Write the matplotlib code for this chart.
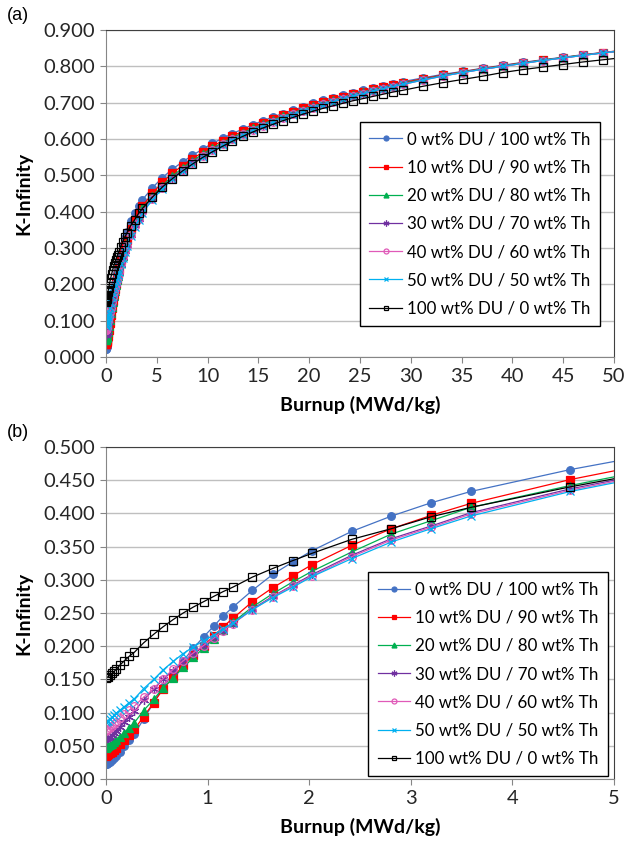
import numpy as np
import matplotlib
matplotlib.use("Agg")
import matplotlib.pyplot as plt
from matplotlib.ticker import FormatStrFormatter, MultipleLocator

plt.rcParams['font.family'] = ['Lato', 'DejaVu Sans']

# burnup grid (MWd/kg)
burnup = [0, 0.01, 0.02, 0.04, 0.06, 0.08, 0.1, 0.14, 0.18, 0.23, 0.28, 0.37, 0.47, 0.56,
          0.66, 0.76, 0.86, 0.96, 1.06, 1.15, 1.25, 1.44, 1.64, 1.84, 2.03,
          2.42, 2.81, 3.2, 3.59,
          4.57, 5.56, 6.54, 7.53, 8.51, 9.5, 10.48, 11.47, 12.45, 13.44, 14.42, 15.41, 16.39,
          17.38, 18.36, 19.35, 20.33, 21.32, 22.3, 23.29, 24.27, 25.26, 26.24, 27.23, 28.21, 29.2,
          31.17, 33.14, 35.11, 37.08, 39.05, 41.02, 42.99, 44.96, 46.93, 48.9, 50.87]

k_du0 = [0.022, 0.023, 0.024, 0.026, 0.028, 0.031, 0.034, 0.041, 0.049, 0.058, 0.068, 0.090, 0.115, 0.138,
         0.159, 0.178, 0.197, 0.214, 0.230, 0.245, 0.259, 0.284, 0.308, 0.327, 0.344,
         0.373, 0.396, 0.416, 0.433,
         0.466, 0.494, 0.517, 0.537, 0.555, 0.572, 0.588, 0.602, 0.615, 0.627, 0.639, 0.650, 0.660,
         0.670, 0.679, 0.688, 0.698, 0.706, 0.713, 0.720, 0.727, 0.734, 0.740, 0.746, 0.752, 0.758,
         0.768, 0.778, 0.786, 0.795, 0.803, 0.811, 0.818, 0.825, 0.832, 0.838, 0.844]

k_du10 = [0.035, 0.036, 0.037, 0.039, 0.041, 0.043, 0.046, 0.052, 0.058, 0.066, 0.075, 0.094, 0.115, 0.135,
          0.153, 0.171, 0.187, 0.201, 0.215, 0.229, 0.242, 0.267, 0.288, 0.306, 0.323,
          0.352, 0.377, 0.397, 0.415,
          0.451, 0.481, 0.506, 0.527, 0.546, 0.563, 0.580, 0.595, 0.608, 0.621, 0.633, 0.645, 0.655,
          0.665, 0.675, 0.684, 0.693, 0.701, 0.709, 0.716, 0.723, 0.730, 0.737, 0.743, 0.749, 0.755,
          0.766, 0.776, 0.785, 0.794, 0.802, 0.810, 0.817, 0.824, 0.831, 0.838, 0.844]

k_du20 = [0.047, 0.048, 0.049, 0.051, 0.053, 0.055, 0.058, 0.064, 0.070, 0.077, 0.085, 0.103, 0.120, 0.137,
          0.152, 0.168, 0.183, 0.197, 0.211, 0.224, 0.236, 0.259, 0.279, 0.297, 0.313,
          0.342, 0.369, 0.389, 0.409,
          0.442, 0.472, 0.498, 0.520, 0.540, 0.558, 0.575, 0.590, 0.604, 0.617, 0.629, 0.641, 0.652,
          0.662, 0.672, 0.681, 0.690, 0.698, 0.706, 0.714, 0.721, 0.728, 0.735, 0.741, 0.747, 0.753,
          0.764, 0.775, 0.784, 0.793, 0.801, 0.809, 0.817, 0.824, 0.831, 0.837, 0.843]

k_du30 = [0.060, 0.061, 0.062, 0.064, 0.066, 0.069, 0.072, 0.079, 0.086, 0.094, 0.102, 0.119, 0.135, 0.150,
          0.163, 0.176, 0.188, 0.200, 0.212, 0.223, 0.234, 0.256, 0.275, 0.292, 0.308,
          0.337, 0.362, 0.381, 0.401,
          0.437, 0.467, 0.493, 0.516, 0.536, 0.554, 0.571, 0.587, 0.601, 0.614, 0.626, 0.638, 0.649,
          0.659, 0.669, 0.678, 0.687, 0.696, 0.704, 0.712, 0.719, 0.726, 0.733, 0.739, 0.745, 0.751,
          0.763, 0.774, 0.783, 0.792, 0.800, 0.808, 0.816, 0.823, 0.830, 0.837, 0.843]

k_du40 = [0.073, 0.074, 0.075, 0.077, 0.080, 0.083, 0.086, 0.092, 0.098, 0.104, 0.110, 0.123, 0.136, 0.151,
          0.165, 0.178, 0.190, 0.201, 0.212, 0.223, 0.234, 0.255, 0.274, 0.291, 0.306,
          0.335, 0.360, 0.379, 0.399,
          0.435, 0.465, 0.491, 0.514, 0.534, 0.552, 0.569, 0.585, 0.600, 0.613, 0.625, 0.637, 0.648,
          0.658, 0.668, 0.677, 0.686, 0.695, 0.703, 0.711, 0.718, 0.725, 0.732, 0.738, 0.744, 0.750,
          0.762, 0.773, 0.783, 0.792, 0.800, 0.808, 0.816, 0.823, 0.830, 0.837, 0.843]

k_du50 = [0.086, 0.087, 0.088, 0.090, 0.093, 0.096, 0.099, 0.104, 0.109, 0.115, 0.121, 0.136, 0.150, 0.164,
          0.177, 0.189, 0.199, 0.208, 0.217, 0.226, 0.235, 0.255, 0.273, 0.289, 0.305,
          0.332, 0.357, 0.377, 0.396,
          0.433, 0.463, 0.489, 0.512, 0.532, 0.550, 0.567, 0.583, 0.598, 0.611, 0.624, 0.636, 0.647,
          0.657, 0.667, 0.676, 0.685, 0.694, 0.702, 0.710, 0.717, 0.724, 0.731, 0.738, 0.744, 0.750,
          0.762, 0.773, 0.783, 0.792, 0.800, 0.808, 0.816, 0.823, 0.830, 0.837, 0.843]

k_du100 = [0.152, 0.153, 0.154, 0.156, 0.159, 0.162, 0.165, 0.172, 0.178, 0.185, 0.191, 0.205, 0.218, 0.229,
           0.240, 0.250, 0.259, 0.267, 0.275, 0.282, 0.289, 0.304, 0.317, 0.329, 0.340,
           0.361, 0.377, 0.395, 0.409,
           0.440, 0.468, 0.491, 0.512, 0.531, 0.549, 0.565, 0.580, 0.594, 0.607, 0.619, 0.630, 0.640,
           0.650, 0.659, 0.668, 0.676, 0.684, 0.691, 0.698, 0.705, 0.711, 0.717, 0.723, 0.729, 0.734,
           0.745, 0.755, 0.764, 0.773, 0.783, 0.791, 0.798, 0.805, 0.812, 0.818, 0.824]

labels = ['0 wt% DU / 100 wt% Th', '10 wt% DU / 90 wt% Th', '20 wt% DU / 80 wt% Th',
          '30 wt% DU / 70 wt% Th', '40 wt% DU / 60 wt% Th', '50 wt% DU / 50 wt% Th',
          '100 wt% DU / 0 wt% Th']
series = [k_du0, k_du10, k_du20, k_du30, k_du40, k_du50, k_du100]

# line colour, marker, marker face, marker size
styles = [('#4472C4', 'o', '#4472C4', 5.5),
          ('#FF0000', 's', '#FF0000', 5.5),
          ('#00B050', '^', '#00B050', 5.5),
          ('#7030A0', (6, 2, 0), '#7030A0', 6.5),
          ('#E05AB8', 'o', 'none', 5.5),
          ('#00B0F0', 'x', '#00B0F0', 5.5),
          ('#000000', 's', 'none', 5.5)]

W, H = 626, 842
fig = plt.figure(figsize=(W / 100, H / 100), dpi=100)

def px_axes(left, top, right, bottom):
    return fig.add_axes([left / W, 1 - bottom / H, (right - left) / W, (bottom - top) / H])

ax_a = px_axes(106, 30, 614, 357)
ax_b = px_axes(106, 447, 614, 779)

panels = [(ax_a, 50, 5, 0.9, 0.1, '(a)', (0.9715, 0.7187)),
          (ax_b, 5, 1, 0.5, 0.05, '(b)', (0.988, 0.623))]

for ax, xmax, xstep, ymax, ystep, tag, leg in panels:
    for y, lab, (col, mk, mfc, ms) in zip(series, labels, styles):
        ax.plot(burnup, y, color=col, lw=0.9, marker=mk, markersize=ms,
                markerfacecolor=mfc, markeredgecolor=col, markeredgewidth=0.9,
                label=lab)
    ax.set_xlim(0, xmax)
    ax.set_ylim(0, ymax)
    ax.xaxis.set_major_locator(MultipleLocator(xstep))
    ax.yaxis.set_major_locator(MultipleLocator(ystep))
    ax.yaxis.set_major_formatter(FormatStrFormatter('%.3f'))
    ax.grid(axis='y', color='#bfbfbf', lw=1.0)
    ax.set_axisbelow(True)
    for s in ['left', 'bottom']:
        ax.spines[s].set_color('#868686')
    for s in ['top', 'right']:
        ax.spines[s].set_color('#404040')
    ax.tick_params(direction='out', length=4, width=0.8, color='#868686',
                   labelsize=14.5, colors='#262626', pad=4)
    ax.set_xlabel('Burnup (MWd/kg)', fontsize=14, fontweight='bold', labelpad=8)
    ax.set_ylabel('K-Infinity', fontsize=14, fontweight='bold', labelpad=8)
    ax.text(-0.195, 1.045, tag, transform=ax.transAxes, fontsize=13,
            family=['Liberation Sans', 'DejaVu Sans'], ha='left', va='center')
    lg = ax.legend(loc='upper right', bbox_to_anchor=(leg[0], leg[1]), fontsize=12.2,
                   frameon=True, fancybox=False, edgecolor='black', framealpha=1,
                   handlelength=1.9, handletextpad=0.3, labelspacing=0.72,
                   borderpad=0.55, markerscale=0.65, borderaxespad=0)
    lg.get_frame().set_linewidth(1.0)

fig.savefig('out.png', dpi=100)
